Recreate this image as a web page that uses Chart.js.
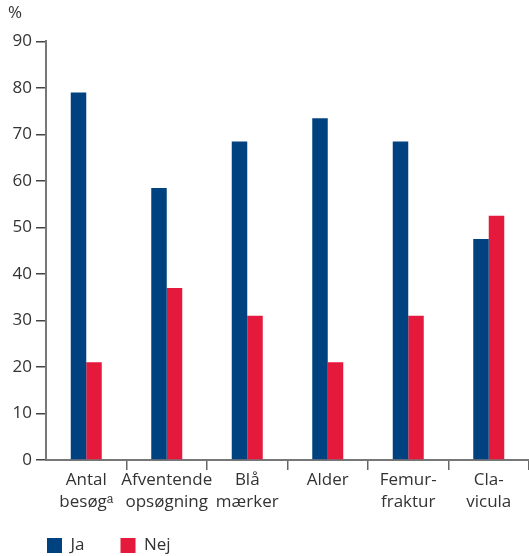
<!DOCTYPE html>
<html>
<head>
<meta charset="utf-8">
<script src="https://cdn.jsdelivr.net/npm/chart.js@4"></script>
<style>
  html, body { margin: 0; padding: 0; background: #fff; }
  #wrap { width: 529px; height: 556px; }
</style>
</head>
<body>
<div id="wrap"><canvas id="bar-chart"></canvas></div>
<script>
const categories = [['Antal', 'besøgᵃ'], ['Afventende', 'opsøgning'], ['Blå', 'mærker'], ['Alder'], ['Femur-', 'fraktur'], ['Cla-', 'vicula']];
const jaValues = [79, 58.5, 68.5, 73.5, 68.5, 47.5];
const nejValues = [21, 37, 31, 21, 31, 52.5];
const yMin = 0, yMax = 90, yStep = 10;

const FONT = "'Open Sans', sans-serif";
const textColor = '#333';

// legend sits a bit higher/right than chart.js puts it
const legendNudge = {
  id: 'legendNudge',
  afterLayout(chart) {
    const lg = chart.legend;
    lg.top -= 12; lg.bottom -= 12;
    lg.left += 3; lg.right += 3;
  }
};

new Chart(document.getElementById("bar-chart"), {
  type: 'bar',
  data: {
    labels: categories,
    datasets: [
      { label: 'Ja', data: jaValues, backgroundColor: '#00427f', borderWidth: 0 },
      { label: 'Nej', data: nejValues, backgroundColor: '#e4193b', borderWidth: 0 }
    ]
  },
  plugins: [legendNudge],
  options: {
    responsive: true,
    maintainAspectRatio: false,
    animation: false,
    devicePixelRatio: 1,
    layout: { padding: { left: 8, right: 0, top: 0, bottom: -20 } },
    datasets: { bar: { barPercentage: 1, categoryPercentage: 0.385 } },
    plugins: {
      tooltip: { enabled: false },
      title: {
        display: true,
        text: '%',
        align: 'start',
        color: textColor,
        font: { family: FONT, size: 17, weight: 'normal' },
        padding: { top: 3, bottom: 18 }
      },
      legend: {
        position: 'bottom',
        align: 'start',
        labels: {
          boxWidth: 15,
          boxHeight: 15,
          padding: 36,
          color: textColor,
          font: { family: FONT, size: 17 }
        }
      }
    },
    scales: {
      x: {
        offset: true,
        afterFit: s => { s.height = 53; },
        grid: {
          offset: true,
          drawOnChartArea: false,
          tickLength: 10,
          lineWidth: 1.5,
          color: ctx => (ctx.index === 0 || ctx.index >= categories.length) ? 'rgba(0,0,0,0)' : '#666'
        },
        border: { color: '#777', width: 2 },
        ticks: {
          color: textColor,
          font: { family: FONT, size: 17, lineHeight: 1.25 },
          padding: 0,
          maxRotation: 0,
          autoSkip: false
        }
      },
      y: {
        min: yMin,
        max: yMax,
        afterFit: s => { s.width = 38; },
        grid: { drawOnChartArea: false, tickLength: 10, lineWidth: 1.5, color: '#444' },
        border: { color: '#777', width: 2 },
        ticks: {
          stepSize: yStep,
          color: textColor,
          padding: 4,
          font: { family: FONT, size: 17 }
        }
      }
    }
  }
});
</script>
</body>
</html>
